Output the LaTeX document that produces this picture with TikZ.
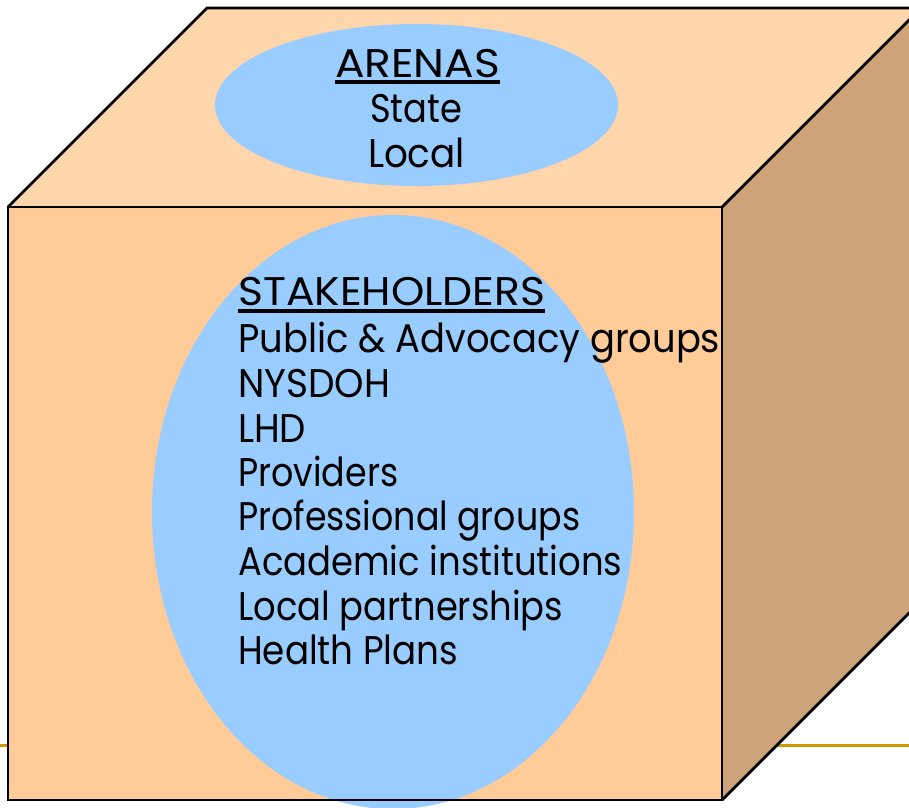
\documentclass[tikz,border=0pt]{standalone}
\usepackage{fontspec}
\setmainfont{Poppins}
\definecolor{frontc}{HTML}{FFCC99}
\definecolor{topc}{HTML}{FFD5AB}
\definecolor{sidec}{HTML}{CFA37A}
\definecolor{bluec}{HTML}{99CCFF}
\definecolor{goldc}{HTML}{CC9900}
\newcommand{\fitw}[2]{\resizebox{#1}{\height}{#2}}
\begin{document}
\begin{tikzpicture}[x=1pt,y=-1pt,
  edge/.style={draw=black, line width=2.8pt, line join=miter},
  goldline/.style={draw=goldc, line width=3pt},
  bubble/.style={fill=bluec},
  lbl/.style={inner sep=0pt, font=\fontsize{40}{45}\selectfont},
  uline/.style={draw=black, line width=3.2pt}]
\useasboundingbox (0,0) rectangle (909,807);
\begin{scope}
\clip (0,0) rectangle (909,807);
\draw[goldline] (0,745) -- (909,745);
\fill[topc] (8,207) -- (207,8) -- (921,8) -- (722,207) -- cycle;
\fill[sidec] (722,207) -- (921,8) -- (921,601) -- (722,800) -- cycle;
\fill[frontc] (8,207) rectangle (722,800);
\fill[bubble] (416.5,105) ellipse [x radius=201.5, y radius=81];
\fill[bubble] (393,512) ellipse [x radius=241, y radius=297];
\draw[edge] (8,207) -- (207,8) -- (921,8);
\draw[edge] (8,207) rectangle (722,800);
\draw[edge] (722,207) -- (921,8);
\draw[edge] (722,800) -- (921,601);
\end{scope}
\node[lbl, anchor=base] (arenas) at (417.5,77) {\fitw{165pt}{ARENAS}};
\node[lbl, anchor=base] (state) at (416,122) {\fitw{92pt}{State}};
\node[lbl, anchor=base] (local) at (416.5,167) {\fitw{97pt}{Local}};
\draw[uline] ([yshift=-5pt]arenas.base west) -- ([yshift=-5pt]arenas.base east);
\node[lbl, anchor=base west] (stake) at (238,305) {\fitw{307pt}{STAKEHOLDERS}};
\draw[uline] ([yshift=-6pt]stake.base west) -- ([yshift=-6pt]stake.base east);
\node[lbl, anchor=base west] (s1) at (238,352) {\fitw{482pt}{Public \& Advocacy groups}};
\node[lbl, anchor=base west] (s2) at (238,397) {\fitw{152pt}{NYSDOH}};
\node[lbl, anchor=base west] (s3) at (238,442) {\fitw{68pt}{LHD}};
\node[lbl, anchor=base west] (s4) at (238,486) {\fitw{160pt}{Providers}};
\node[lbl, anchor=base west] (s5) at (238,530) {\fitw{342pt}{Professional groups}};
\node[lbl, anchor=base west] (s6) at (238,575) {\fitw{384pt}{Academic institutions}};
\node[lbl, anchor=base west] (s7) at (238,620) {\fitw{325pt}{Local partnerships}};
\node[lbl, anchor=base west] (s8) at (238,664) {\fitw{220pt}{Health Plans}};
\end{tikzpicture}
\end{document}
